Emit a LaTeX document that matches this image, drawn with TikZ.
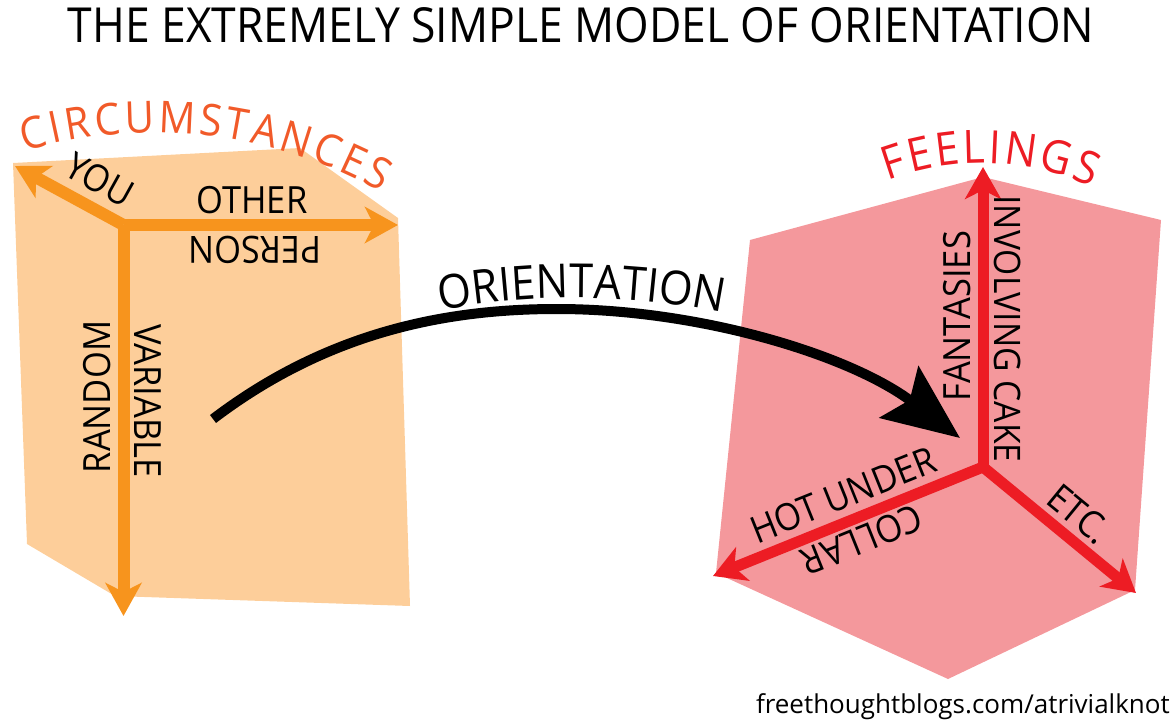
\documentclass[tikz,border=0pt]{standalone}
\usepackage{fontspec}
\setmainfont{Open Sans}[FakeStretch=0.92]
\newfontfamily\footfont{Open Sans}
\usetikzlibrary{arrows.meta,decorations.text}
\definecolor{lorange}{HTML}{FDCE9A}
\definecolor{lpink}{HTML}{F4989C}
\definecolor{aorange}{HTML}{F7941D}
\definecolor{ared}{HTML}{ED1C24}
\definecolor{circ}{HTML}{F15A29}
\newcommand{\fsz}[1]{\fontsize{#1}{#1}\selectfont}
\tikzset{
  oarrow/.style={aorange, line width=12pt, -{Stealth[length=33pt,width=36pt,inset=9pt]}},
  rarrow/.style={ared, line width=11pt, -{Stealth[length=32pt,width=36pt,inset=9pt]}},
  barrow/.style={black, line width=10pt, -{Stealth[length=76pt,width=64pt,inset=13pt]}},
  lab/.style={inner sep=0pt, font=\fsz{37.5}},
}
\begin{document}
\begin{tikzpicture}[x=1pt,y=1pt]
\useasboundingbox (0,0) rectangle (1173,-723);
% faces
\fill[lorange] (13,-163) -- (300,-148) -- (398,-218) -- (410,-606) -- (115,-596) -- (27,-544) -- cycle;
\fill[lpink] (750,-240) -- (983,-177) -- (1161,-220) -- (1135,-590) -- (948,-679) -- (716,-573) -- cycle;
% title
\node[inner sep=0pt, font=\fsz{48.3}] (title) at (581,-25) {THE EXTREMELY SIMPLE MODEL OF ORIENTATION};
% curved headings
\path[decorate, decoration={text along path, text align={fit to path}, raise=-14pt,
  text={|\fsz{44}\color{circ}|CIRCUMSTANCES}}]
  (20.9,-137.8) arc[start angle=106.45, end angle=60.5, radius=472.5];
\path[decorate, decoration={text along path, text align={fit to path},
  text={|\fsz{46}\color{ared}|FEELINGS}}]
  (887.9,-180.4) arc[start angle=110.4, end angle=66, radius=270];
\path[decorate, decoration={text along path, text align={fit to path},
  text={|\fsz{47}|ORIENTATION}}]
  (440.4,-310.2) arc[start angle=100.35, end angle=78.6, radius=749];
% left axes
\coordinate (oc) at (123.5,-225);
\coordinate (oyou) at (15,-166);
\coordinate (oright) at (398,-225);
\coordinate (odown) at (123.5,-616);
\draw[oarrow] (oc) -- (oyou);
\draw[oarrow] (oc) -- (oright);
\draw[oarrow] (oc) -- (odown);
% black arrow
\coordinate (cs) at (213,-419);
\coordinate (pk) at (557,-309);
\coordinate (ct) at (960,-438);
\draw[barrow] (cs) .. controls (330,-330) and (450,-309) .. (pk) .. controls (700,-309) and (850,-355) .. (ct);
% right axes
\coordinate (rc) at (983,-467);
\coordinate (rup) at (983,-167);
\coordinate (rleft) at (713,-576);
\coordinate (rright) at (1136,-593);
\draw[rarrow] (rc) -- (rup);
\draw[rarrow] (rc) -- (rleft);
\draw[rarrow] (rc) -- (rright);
% labels
\node[lab, rotate=-29] (you) at (100,-180) {YOU};
\node[lab] (other) at (252,-200) {OTHER};
\node[lab, rotate=180] (person) at (255,-250) {PERSON};
\node[lab, rotate=90] (random) at (97,-397) {RANDOM};
\node[lab, rotate=-90] (variable) at (148,-401) {VARIABLE};
\node[lab, rotate=90] (fantasies) at (957,-316) {FANTASIES};
\node[lab, rotate=-90, font=\fsz{36.5}] (cake) at (1008,-329) {INVOLVING CAKE};
\node[lab, rotate=21.9] (hot) at (843,-495) {HOT UNDER};
\node[lab, rotate=201.9] (collar) at (862,-540) {COLLAR};
\node[lab, rotate=-39.3] (etc) at (1079,-514) {ETC.};
% footer
\node[inner sep=0pt, anchor=base east, font=\footfont\fsz{26}] (footer) at (1170,-713) {freethoughtblogs.com/atrivialknot};
\end{tikzpicture}
\end{document}
